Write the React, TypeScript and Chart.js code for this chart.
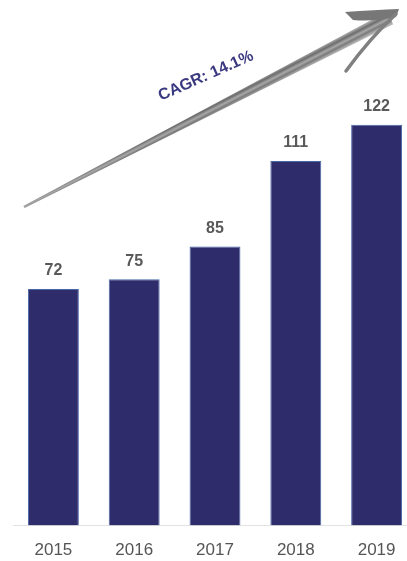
import React, { useEffect, useRef } from "react";
import { Chart, registerables } from "chart.js";

Chart.register(...registerables);

const years = ["2015", "2016", "2017", "2018", "2019"];
const marketValues = [72, 75, 85, 111, 122];
const cagrLabel = "CAGR: 14.1%";

const BAR_COLOR = "#2e2c6b";

const valueLabels = {
  id: "valueLabels",
  afterDatasetsDraw(chart: any) {
    const ctx = chart.ctx;
    const meta = chart.getDatasetMeta(0);
    ctx.save();
    ctx.font = "bold 16px 'Liberation Sans', Arial, sans-serif";
    ctx.fillStyle = "#595959";
    ctx.textAlign = "center";
    ctx.textBaseline = "middle";
    meta.data.forEach((bar: any, i: number) => {
      ctx.fillText(String(marketValues[i]), bar.x, bar.y - 18);
    });
    ctx.restore();
  },
};

const cagrArrow = {
  id: "cagrArrow",
  afterDraw(chart: any) {
    const ctx = chart.ctx;
    ctx.save();
    const tail = { x: 24, y: 207 };
    const end = { x: 390, y: 18 };
    const dx = end.x - tail.x;
    const dy = end.y - tail.y;
    const len = Math.sqrt(dx * dx + dy * dy);
    const ux = dx / len;
    const uy = dy / len;
    const nx = -uy;
    const ny = ux;
    const w0 = 1.2;
    const w1 = 7;
    const mx = (tail.x + end.x) / 2;
    const my = (tail.y + end.y) / 2;
    const grad = ctx.createLinearGradient(mx + nx * 6, my + ny * 6, mx - nx * 6, my - ny * 6);
    grad.addColorStop(0, "#b8b8b8");
    grad.addColorStop(0.3, "#7a7a7a");
    grad.addColorStop(0.5, "#a8a8a8");
    grad.addColorStop(0.75, "#6c6c6c");
    grad.addColorStop(1, "#a6a6a6");
    ctx.beginPath();
    ctx.moveTo(tail.x + nx * w0, tail.y + ny * w0);
    ctx.lineTo(end.x + nx * w1, end.y + ny * w1);
    ctx.lineTo(end.x - nx * w1, end.y - ny * w1);
    ctx.lineTo(tail.x - nx * w0, tail.y - ny * w0);
    ctx.closePath();
    ctx.fillStyle = grad;
    ctx.fill();
    // arrow head barbs
    ctx.lineCap = "round";
    ctx.fillStyle = "#777777";
    ctx.beginPath();
    ctx.moveTo(345, 12);
    ctx.quadraticCurveTo(375, 10, 399, 9);
    ctx.lineTo(396, 17);
    ctx.quadraticCurveTo(372, 22, 353, 20);
    ctx.closePath();
    ctx.fill();
    ctx.strokeStyle = "#808080";
    ctx.lineWidth = 3.5;
    ctx.beginPath();
    ctx.moveTo(346, 71);
    ctx.quadraticCurveTo(370, 38, 396, 14);
    ctx.stroke();
    // text
    ctx.translate(206, 76);
    ctx.rotate((-24 * Math.PI) / 180);
    ctx.font = "bold 16px 'Liberation Sans', Arial, sans-serif";
    ctx.fillStyle = "#3b3a80";
    ctx.textAlign = "center";
    ctx.textBaseline = "middle";
    ctx.fillText(cagrLabel, 0, 0);
    ctx.restore();
  },
};

export default function App() {
  const ref = useRef<HTMLCanvasElement>(null);
  useEffect(() => {
    if (!ref.current) return;
    const chart = new Chart(ref.current, {
      type: "bar",
      data: {
        labels: years,
        datasets: [
          {
            data: marketValues,
            backgroundColor: BAR_COLOR,
            borderColor: "#4a68a8",
            borderWidth: { left: 1, right: 1, top: 1, bottom: 0 } as any,
            barPercentage: 0.63,
            categoryPercentage: 1,
          },
        ],
      },
      options: {
        animation: false,
        responsive: false,
        devicePixelRatio: 1,
        layout: { padding: { left: 13, right: 3, top: 0, bottom: 0 } },
        plugins: { legend: { display: false }, tooltip: { enabled: false } },
        scales: {
          x: {
            grid: { display: false, drawTicks: false },
            border: { display: true, color: "#e2e2e2", width: 1 },
            ticks: {
              color: "#555555",
              padding: 15,
              font: { family: "'Liberation Sans', Arial, sans-serif", size: 17 },
            },
          },
          y: {
            display: false,
            min: 0,
            max: 160,
          },
        },
      },
      plugins: [valueLabels, cagrArrow],
    });
    return () => chart.destroy();
  }, []);
  return (
    <div
      style={{
        position: "absolute",
        left: 0,
        top: 0,
        width: 407,
        height: 561,
        overflow: "hidden",
        background: "#ffffff",
      }}
    >
      <canvas ref={ref} width={420} height={576} style={{ display: "block" }} />
    </div>
  );
}
